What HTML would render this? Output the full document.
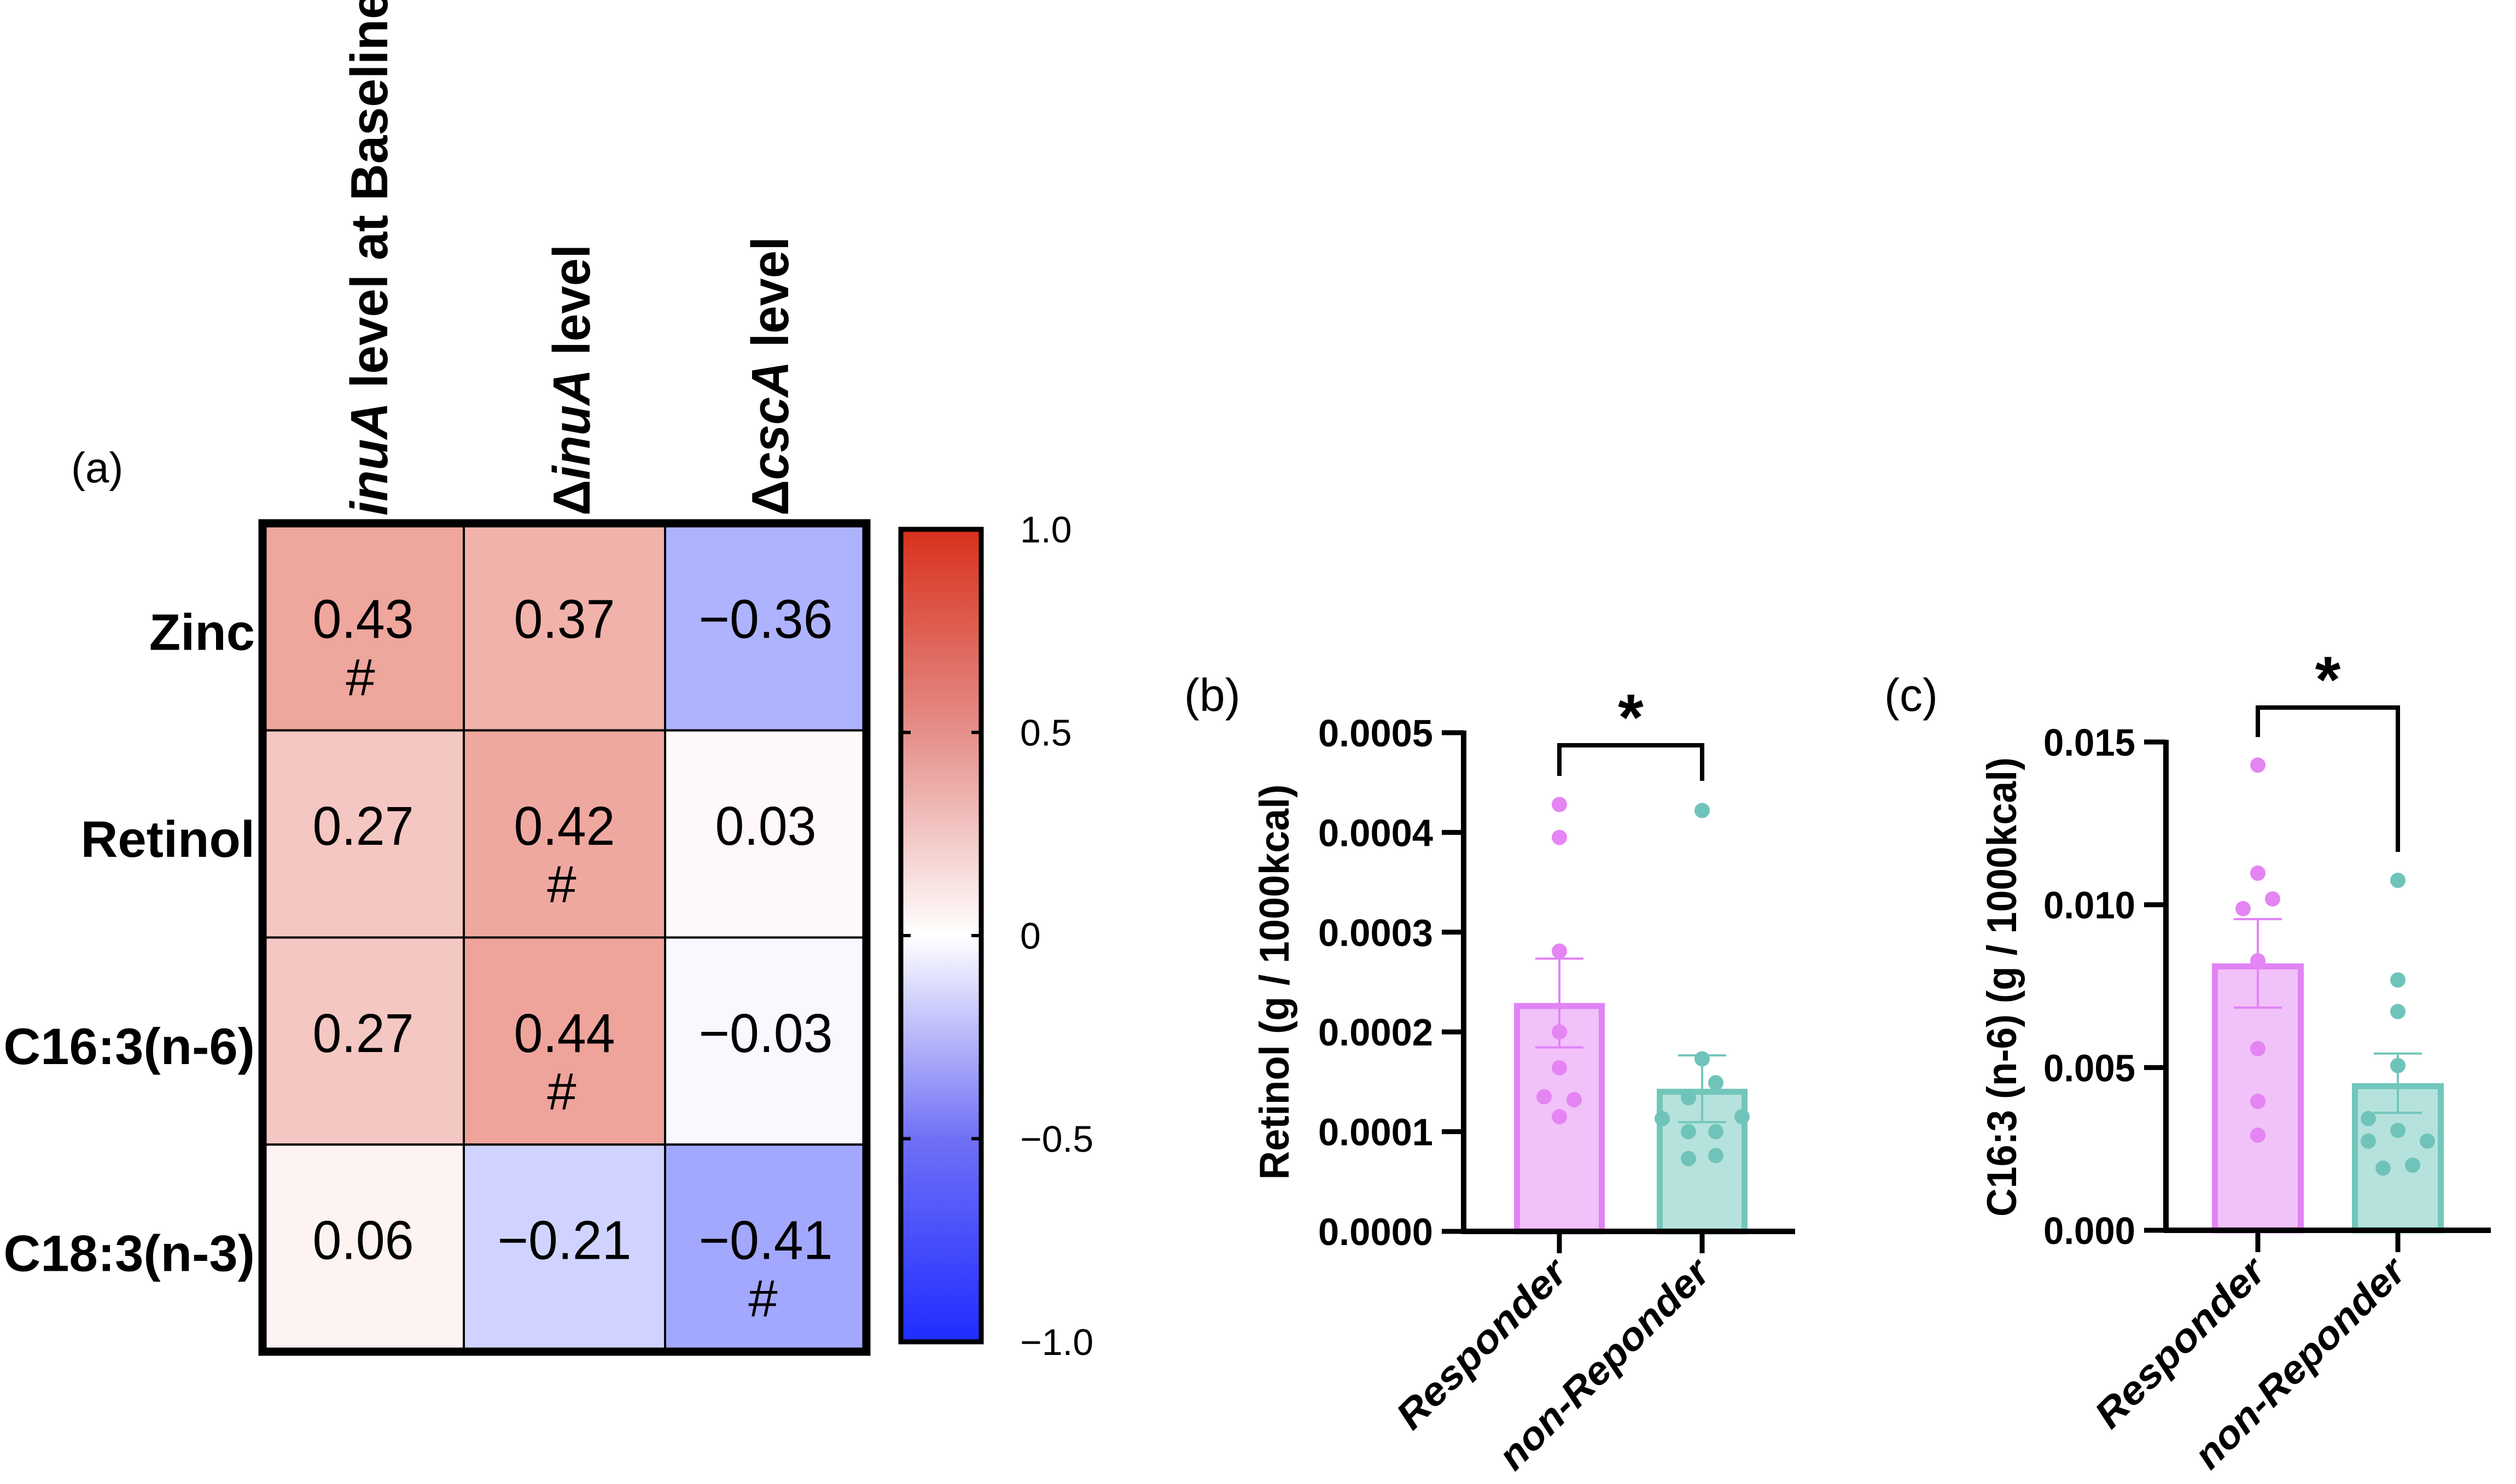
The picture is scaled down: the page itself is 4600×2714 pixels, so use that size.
<!DOCTYPE html>
<html><head><meta charset="utf-8">
<style>
html,body{margin:0;padding:0;background:#fff;}
svg{display:block;}
text{font-family:"Liberation Sans",Arial,sans-serif;}
</style></head>
<body>
<svg id="fig" width="4600" height="2714" viewBox="0 0 4600 2714" xmlns="http://www.w3.org/2000/svg">
<defs>
<linearGradient id="cbar" x1="0" y1="0" x2="0" y2="1">
<stop offset="0" stop-color="#d8301c"/>
<stop offset="0.25" stop-color="#e58f8a"/>
<stop offset="0.5" stop-color="#ffffff"/>
<stop offset="0.75" stop-color="#7070f6"/>
<stop offset="1" stop-color="#1e2cff"/>
</linearGradient>
</defs>
<g id="heat"></g>
<g id="chartB"></g>
<g id="chartC"></g>
</svg>
<script>
// ---- Heatmap data ----
const heatCols = ["inuA level at Baseline", "ΔinuA level", "ΔcscA level"];
const heatRows = ["Zinc", "Retinol", "C16:3(n-6)", "C18:3(n-3)"];
const heatVals = [
  [0.43, 0.37, -0.36],
  [0.27, 0.42, 0.03],
  [0.27, 0.44, -0.03],
  [0.06, -0.21, -0.41]
];
const heatSig = [
  [true, false, false],
  [false, true, false],
  [false, true, false],
  [false, false, true]
];
const cbarTicks = [1.0, 0.5, 0, -0.5, -1.0];
const cbarTickLabels = ["1.0", "0.5", "0", "\u22120.5", "\u22121.0"];

// ---- Chart B data (Retinol) ----
const groups = ["Responder", "non-Reponder"];
const bMeans = [0.000229, 0.000143];
const bSem = [0.0000445, 0.0000335];
const bPtsR = [0.000428, 0.000395, 0.000281, 0.000200, 0.000164, 0.000135, 0.000132, 0.000115];
const bPtsN = [0.000422, 0.000173, 0.000149, 0.000134, 0.000113, 0.000115, 0.000100, 0.000100, 0.000073, 0.000076];
const bTicks = [0, 0.0001, 0.0002, 0.0003, 0.0004, 0.0005];
const bTickLabels = ["0.0000", "0.0001", "0.0002", "0.0003", "0.0004", "0.0005"];

// ---- Chart C data (C16:3 n-6) ----
const cMeans = [0.0082, 0.00452];
const cSem = [0.00136, 0.00091];
const cPtsR = [0.01429, 0.01097, 0.01018, 0.00988, 0.00828, 0.00558, 0.00396, 0.00292];
const cPtsN = [0.01075, 0.00769, 0.00672, 0.00506, 0.00343, 0.00307, 0.00274, 0.00274, 0.00191, 0.00200];
const cTicks = [0, 0.005, 0.010, 0.015];
const cTickLabels = ["0.000", "0.005", "0.010", "0.015"];

const NS = "http://www.w3.org/2000/svg";
function mk(parent, tag, attrs, txt) {
  const e = document.createElementNS(NS, tag);
  for (const k in attrs) e.setAttribute(k, attrs[k]);
  if (txt !== undefined) e.textContent = txt;
  parent.appendChild(e);
  return e;
}
function lerp(a, b, t) { return Math.round(a + (b - a) * t); }
function heatColor(v) {
  const t = Math.min(1, Math.abs(v));
  if (v >= 0) return `rgb(${lerp(255,216,t)},${lerp(255,48,t)},${lerp(255,28,t)})`;
  return `rgb(${lerp(255,30,t)},${lerp(255,44,t)},${lerp(255,255,t)})`;
}

// ===== Heatmap =====
(function(){
  const g = document.getElementById('heat');
  const x0 = 480, y0 = 957, cw = (1584 - 480) / 3, rh = (2472 - 957) / 4;
  const label = mk(g, 'text', {x: 130, y: 882, 'font-size': 78}, '(a)');
  
  
  for (let r = 0; r < heatRows.length; r++) {
    for (let c = 0; c < heatCols.length; c++) {
      const v = heatVals[r][c];
      const cell = mk(g, 'rect', {x: x0 + c * cw, y: y0 + r * rh, width: cw, height: rh, fill: heatColor(v), stroke: '#000', 'stroke-width': 4});
      
      
      const cx = x0 + (c + 0.5) * cw, cy = y0 + (r + 0.5) * rh;
      const s = (v < 0 ? '\u2212' : '') + Math.abs(v).toFixed(2);
      const t = mk(g, 'text', {x: cx, y: cy + 20, 'font-size': 100, 'text-anchor': 'middle', textLength: (v < 0 ? 245 : 185), lengthAdjust: 'spacingAndGlyphs'}, s);
      
      
      if (heatSig[r][c]) {
        const h = mk(g, 'text', {x: cx - 5, y: cy + 125, 'font-size': 96, 'text-anchor': 'middle'}, '#');
        
        
      }
    }
    const rl = mk(g, 'text', {x: 466, y: y0 + (r + 0.5) * rh + 42, 'font-size': 94, 'font-weight': 'bold', 'text-anchor': 'end'}, heatRows[r]);
    
    
  }
  const border = mk(g, 'rect', {x: x0, y: y0, width: 1584 - 480, height: 2472 - 957, fill: 'none', stroke: '#000', 'stroke-width': 15});
  
  
  // column headers
  const hx = [708, 1078, 1441], hl = [960, 496, 510];
  for (let c = 0; c < heatCols.length; c++) {
    const t = mk(g, 'text', {transform: `translate(${hx[c]},943) rotate(-90)`, x: 0, y: 0, 'font-size': 96, 'font-weight': 'bold', textLength: hl[c], lengthAdjust: 'spacingAndGlyphs'});
    
    
    const name = heatCols[c];
    const parts = name.startsWith('Δ') ? ['Δ', name.slice(1, 5), name.slice(5)] : ['', name.slice(0, 4), name.slice(4)];
    if (parts[0]) mk(t, 'tspan', {}, parts[0]);
    mk(t, 'tspan', {'font-style': 'italic'}, parts[1]);
    mk(t, 'tspan', {}, parts[2]);
  }
  // colorbar
  const cbx = 1647, cby = 968, cbw = 147, cbh = 1486;
  const cb = mk(g, 'rect', {x: cbx, y: cby, width: cbw, height: cbh, fill: 'url(#cbar)', stroke: '#000', 'stroke-width': 9});
  
  
  const cyOf = v => cby + (1 - v) / 2 * cbh;
  for (let i = 0; i < cbarTicks.length; i++) {
    const y = cyOf(cbarTicks[i]);
    if (Math.abs(cbarTicks[i]) < 1) {
      mk(g, 'line', {x1: cbx, x2: cbx + 18, y1: y, y2: y, stroke: '#000', 'stroke-width': 6});
      mk(g, 'line', {x1: cbx + cbw - 18, x2: cbx + cbw, y1: y, y2: y, stroke: '#000', 'stroke-width': 6});
    }
    const t = mk(g, 'text', {x: 1865, y: y + 24, 'font-size': 68}, cbarTickLabels[i]);
    
    
  }
})();

// ===== Bar charts =====
function barChart(gid, o) {
  const g = document.getElementById(gid);
  const yOf = v => o.base - (v / o.ymax) * (o.base - o.top);
  const cols = [{fill: '#f1c1f9', stroke: '#e183f5', dot: '#e585f3'}, {fill: '#b6e2dd', stroke: '#73c6bb', dot: '#6fc4b9'}];
  const pl = mk(g, 'text', {x: o.labelX, y: o.labelY, 'font-size': 84}, o.panel);
  
  
  for (let i = 0; i < o.means.length; i++) {
    const cx = o.cx[i];
    const yt = yOf(o.means[i]);
    const bar = mk(g, 'rect', {x: cx - o.bw / 2 + 5.5, y: yt + 5.5, width: o.bw - 11, height: o.base - yt - 5.5, fill: cols[i].fill, stroke: cols[i].stroke, 'stroke-width': 11});
    
    
    const e1 = yOf(o.means[i] + o.sem[i]), e2 = yOf(o.means[i] - o.sem[i]);
    const eb = mk(g, 'path', {d: `M${cx},${e1}V${e2}M${cx - 44},${e1}H${cx + 44}M${cx - 44},${e2}H${cx + 44}`, stroke: cols[i].stroke, 'stroke-width': 4, fill: 'none'});
    
    
    const pts = o.pts[i], offs = o.offs[i];
    for (let k = 0; k < pts.length; k++) {
      const d = mk(g, 'ellipse', {cx: cx + offs[k], cy: yOf(pts[k]), rx: 14, ry: 14, fill: cols[i].dot});
      
      
    }
    mk(g, 'line', {x1: cx, x2: cx, y1: o.base, y2: o.base + 40, stroke: '#000', 'stroke-width': 9});
    const xl = mk(g, 'text', {transform: `translate(${cx + 18},${o.base + 80}) rotate(-45)`, 'font-size': 72, 'font-weight': 'bold', 'font-style': 'italic', 'text-anchor': 'end', textLength: i === 0 ? 405 : 510, lengthAdjust: 'spacingAndGlyphs'}, groups[i]);
    
    
  }
  const ax = mk(g, 'path', {d: `M${o.axX},${o.top - 4}V${o.base}M${o.axX - 4},${o.base}H${o.axEnd}`, stroke: '#000', 'stroke-width': 10, fill: 'none'});
  
  
  for (let i = 0; i < o.ticks.length; i++) {
    const y = yOf(o.ticks[i]);
    mk(g, 'line', {x1: o.axX - 40, x2: o.axX, y1: y, y2: y, stroke: '#000', 'stroke-width': 9});
    const t = mk(g, 'text', {x: o.axX - 56, y: y + 25, 'font-size': 70, 'font-weight': 'bold', 'text-anchor': 'end', textLength: o.tlw, lengthAdjust: 'spacingAndGlyphs'}, o.tickLabels[i]);
    
    
  }
  const yt = mk(g, 'text', {transform: `translate(${o.titleX},${o.titleY}) rotate(-90)`, 'font-size': 76, 'font-weight': 'bold', 'text-anchor': 'middle', textLength: o.titleLen, lengthAdjust: 'spacingAndGlyphs'}, o.title);
  
  
  const br = mk(g, 'path', {d: `M${o.cx[0]},${o.brL}V${o.brTop}H${o.cx[1]}V${o.brR}`, stroke: '#000', 'stroke-width': 8, fill: 'none'});
  
  
  const st = mk(g, 'text', {x: (o.cx[0] + o.cx[1]) / 2, y: o.brTop - 10, 'font-size': 120, 'font-weight': 'bold', 'text-anchor': 'middle'}, '*');
  
  
}

barChart('chartB', {
  panel: '(b)', labelX: 2165, labelY: 1300, base: 2252, top: 1340, ymax: 0.0005,
  means: bMeans, sem: bSem, pts: [bPtsR, bPtsN],
  offs: [[0, 0, 0, 0, 0, -28, 27, 0], [0, 0, 25, -25, -73, 73, -25, 25, -25, 25]],
  cx: [2851, 3112], bw: 166, axX: 2676, axEnd: 3282,
  ticks: bTicks, tickLabels: bTickLabels, tlw: 210,
  title: 'Retinol (g / 1000kcal)', titleX: 2356, titleY: 1796, titleLen: 723,
  brTop: 1363, brL: 1419, brR: 1428
});
barChart('chartC', {
  panel: '(c)', labelX: 3445, labelY: 1300, base: 2250, top: 1357, ymax: 0.015,
  means: cMeans, sem: cSem, pts: [cPtsR, cPtsN],
  offs: [[0, 0, 27, -27, 0, 0, 0, 0], [0, 0, 0, 0, -54, 0, -54, 54, -27, 27]],
  cx: [4128, 4384], bw: 168, axX: 3960, axEnd: 4554,
  ticks: cTicks, tickLabels: cTickLabels, tlw: 168,
  title: 'C16:3 (n-6) (g / 1000kcal)', titleX: 3686, titleY: 1805, titleLen: 840,
  brTop: 1294, brL: 1348, brR: 1558
});
</script>
</body></html>
